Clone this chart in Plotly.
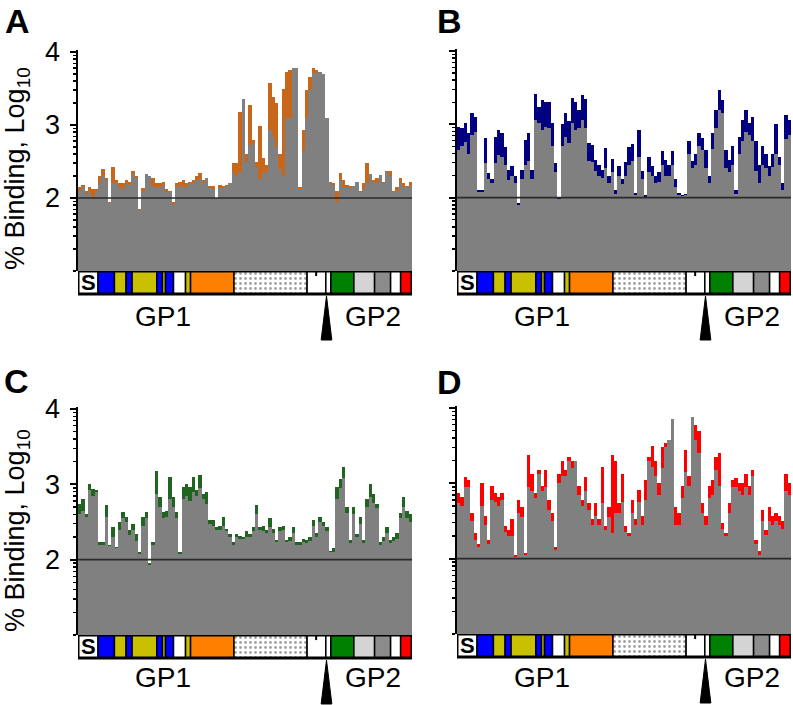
import plotly.graph_objects as go

W, H = 793, 705
FONT = "Liberation Sans"

# ---------------- data (log10 % binding, 100 peptide columns) ----------------
N = 100
cols = [i + 0.5 for i in range(N)]

a_top = [2.15, 2.18, 2.10, 2.15, 2.13, 2.12, 2.30, 2.40, 2.28, 1.95,
         2.42, 2.25, 2.20, 2.20, 2.25, 2.22, 2.37, 2.30, 1.85, 2.14,
         2.20, 2.25, 2.28, 2.20, 2.20, 2.22, 2.12, 2.10, 1.95, 2.20,
         2.22, 2.25, 2.20, 2.22, 2.25, 2.30, 2.34, 2.25, 2.22, 2.16,
         2.16, 2.00, 2.18, 2.17, 2.18, 2.20, 2.48, 2.48, 3.18, 3.20,
         2.60, 3.27, 2.80, 2.50, 2.99, 2.55, 2.45, 3.57, 3.38, 3.30,
         2.60, 3.50, 3.72, 3.76, 3.60, 2.50, 2.15, 2.93, 3.48, 3.66,
         3.78, 3.75, 3.35, 3.30, 2.80, 2.22, 2.20, 2.10, 2.34, 2.25,
         2.18, 2.16, 2.16, 2.18, 2.10, 2.20, 2.48, 2.20, 2.25, 2.28,
         2.30, 2.22, 2.37, 2.37, 2.10, 2.15, 2.28, 2.20, 2.17, 2.22]
a_gray = [2.10, 2.15, 2.05, 2.10, 2.02, 2.10, 2.20, 2.32, 2.25, 1.93,
          2.20, 2.20, 2.15, 2.12, 2.20, 2.18, 2.33, 2.28, 1.83, 2.10,
          2.33, 2.30, 2.16, 2.14, 2.15, 2.18, 2.08, 2.08, 1.90, 2.15,
          2.16, 2.15, 2.15, 2.20, 2.20, 2.25, 2.26, 2.20, 2.27, 2.14,
          2.12, 1.98, 2.14, 2.15, 2.17, 2.20, 2.34, 2.30, 2.36, 3.36,
          2.50, 2.72, 2.75, 2.42, 2.26, 2.34, 2.35, 2.93, 2.84, 2.70,
          2.40, 2.30, 3.10, 3.10, 3.78, 3.78, 2.12, 2.65, 3.10, 3.48,
          3.71, 3.71, 3.73, 3.70, 3.10, 2.20, 2.18, 1.95, 2.25, 2.15,
          2.15, 2.14, 2.16, 2.22, 2.08, 2.12, 2.20, 2.33, 2.22, 2.20,
          2.32, 2.20, 2.35, 2.30, 2.08, 2.10, 2.20, 2.15, 2.15, 2.17]

b_top = [2.96, 2.95, 3.02, 2.88, 3.15, 3.10, 2.10, 2.10, 2.81, 2.34,
         2.25, 2.83, 2.92, 2.88, 2.69, 2.38, 2.43, 2.30, 1.93, 2.38,
         2.79, 2.88, 2.38, 3.42, 3.24, 3.33, 3.31, 3.30, 3.02, 2.47,
         2.00, 3.00, 3.15, 3.04, 3.36, 3.30, 3.20, 3.40, 3.34, 2.75,
         2.72, 2.51, 2.45, 2.38, 2.68, 2.30, 2.53, 2.10, 2.43, 2.25,
         2.49, 2.69, 2.73, 2.06, 2.92, 2.37, 2.03, 2.55, 2.43, 2.30,
         2.35, 2.64, 2.52, 2.45, 2.64, 2.25, 2.07, 2.04, 2.05, 2.77,
         2.50, 2.60, 2.88, 2.82, 2.65, 2.30, 2.88, 3.20, 3.47, 3.33,
         2.65, 2.52, 2.70, 2.10, 2.83, 3.06, 3.20, 3.02, 3.10, 2.77,
         2.45, 2.70, 2.60, 2.43, 2.60, 3.00, 2.56, 2.20, 3.13, 3.06]
b_gray = [2.65, 2.70, 2.76, 2.60, 2.85, 2.90, 2.08, 2.08, 2.47, 2.26,
          2.20, 2.47, 2.58, 2.55, 2.44, 2.24, 2.30, 2.20, 1.90, 2.25,
          2.45, 2.50, 2.26, 3.06, 3.02, 2.92, 2.97, 2.95, 2.70, 2.35,
          1.98, 2.70, 2.83, 2.74, 3.02, 2.92, 2.95, 3.06, 2.95, 2.50,
          2.48, 2.36, 2.30, 2.27, 2.40, 2.20, 2.35, 2.05, 2.30, 2.18,
          2.30, 2.45, 2.50, 2.03, 2.56, 2.25, 2.00, 2.35, 2.30, 2.20,
          2.22, 2.45, 2.30, 2.30, 2.45, 2.15, 2.03, 2.02, 2.03, 2.60,
          2.40, 2.45, 2.70, 2.65, 2.40, 2.20, 2.66, 2.95, 3.20, 3.15,
          2.40, 2.35, 2.45, 2.05, 2.60, 2.77, 2.90, 2.86, 2.77, 2.36,
          2.20, 2.45, 2.40, 2.30, 2.42, 2.60, 2.45, 2.10, 2.80, 2.85]

c_top = [2.74, 2.80, 2.60, 3.00, 2.94, 2.92, 2.23, 2.23, 2.72, 2.20,
         2.43, 2.17, 2.50, 2.63, 2.57, 2.39, 2.48, 2.34, 2.10, 2.57,
         2.63, 1.95, 2.23, 3.18, 2.83, 2.63, 2.65, 3.10, 2.83, 2.63,
         2.10, 2.96, 3.00, 2.96, 3.10, 2.92, 3.12, 2.87, 2.90, 2.52,
         2.52, 2.43, 2.45, 2.57, 2.41, 2.34, 2.23, 2.34, 2.32, 2.30,
         2.38, 2.34, 2.43, 2.72, 2.43, 2.45, 2.39, 2.55, 2.41, 2.26,
         2.43, 2.45, 2.26, 2.30, 2.44, 2.23, 2.23, 2.28, 2.26, 2.30,
         2.52, 2.35, 2.57, 2.50, 2.43, 2.12, 2.15, 2.96, 3.07, 3.23,
         2.70, 2.26, 2.70, 2.34, 2.57, 2.26, 2.80, 3.00, 2.87, 2.74,
         2.23, 2.30, 2.43, 2.26, 2.30, 2.35, 2.62, 2.83, 2.65, 2.60]
c_gray = [2.61, 2.65, 2.57, 2.92, 2.85, 2.90, 2.20, 2.20, 2.57, 2.18,
          2.30, 2.15, 2.40, 2.55, 2.50, 2.33, 2.40, 2.25, 2.07, 2.45,
          2.55, 1.93, 2.20, 2.87, 2.70, 2.55, 2.57, 2.80, 2.70, 2.55,
          2.08, 2.80, 2.85, 2.78, 2.90, 2.85, 2.95, 2.80, 2.74, 2.48,
          2.45, 2.40, 2.40, 2.45, 2.38, 2.30, 2.20, 2.30, 2.28, 2.27,
          2.30, 2.30, 2.38, 2.60, 2.40, 2.38, 2.35, 2.43, 2.35, 2.23,
          2.38, 2.40, 2.23, 2.25, 2.35, 2.20, 2.20, 2.24, 2.22, 2.25,
          2.45, 2.30, 2.50, 2.45, 2.38, 2.10, 2.10, 2.80, 2.95, 3.08,
          2.62, 2.22, 2.60, 2.30, 2.48, 2.22, 2.70, 2.83, 2.75, 2.68,
          2.20, 2.25, 2.35, 2.22, 2.25, 2.28, 2.55, 2.70, 2.55, 2.50]

d_top = [2.87, 2.82, 3.09, 3.05, 2.60, 2.34, 2.20, 3.00, 2.56, 2.25,
         2.96, 2.87, 2.82, 2.87, 2.43, 2.38, 2.52, 2.05, 2.78, 2.69,
         2.07, 3.37, 3.13, 2.87, 3.18, 2.96, 3.18, 2.78, 2.60, 2.16,
         3.13, 3.30, 3.18, 3.35, 3.30, 3.18, 2.96, 2.78, 3.09, 2.74,
         2.52, 2.74, 2.52, 3.22, 2.43, 2.69, 3.37, 3.30, 2.74, 3.13,
         2.43, 2.34, 2.78, 2.52, 2.91, 2.56, 3.04, 3.35, 3.50, 3.30,
         3.00, 3.48, 3.53, 3.40, 3.55, 2.69, 2.60, 2.96, 3.44, 3.10,
         3.30, 3.77, 3.70, 2.74, 2.56, 2.96, 3.04, 3.35, 3.40, 2.47,
         2.34, 2.74, 3.04, 3.07, 3.00, 3.00, 3.13, 2.96, 3.18, 2.25,
         2.10, 2.65, 2.38, 2.69, 2.56, 2.60, 2.56, 2.50, 3.13, 3.00]
d_gray = [2.74, 2.70, 2.95, 2.95, 2.50, 2.25, 2.15, 2.70, 2.45, 2.20,
          2.78, 2.75, 2.70, 2.78, 2.35, 2.30, 2.30, 2.02, 2.60, 2.55,
          2.05, 2.95, 2.90, 2.80, 3.12, 2.90, 2.95, 2.65, 2.50, 2.12,
          3.00, 3.10, 3.10, 3.30, 3.20, 3.30, 2.85, 2.70, 2.90, 2.65,
          2.45, 2.57, 2.45, 2.74, 2.38, 2.55, 2.34, 2.60, 2.60, 2.75,
          2.35, 2.30, 2.60, 2.45, 2.75, 2.45, 2.78, 3.30, 3.22, 3.10,
          2.85, 3.20, 3.48, 3.57, 3.86, 2.45, 2.45, 2.80, 3.15, 2.96,
          3.88, 3.57, 3.40, 2.60, 2.45, 2.80, 2.85, 3.18, 2.96, 2.40,
          2.30, 2.60, 2.95, 2.95, 2.90, 2.85, 2.95, 2.85, 3.10, 2.20,
          2.05, 2.50, 2.32, 2.50, 2.45, 2.50, 2.45, 2.40, 2.90, 2.85]

# y ticks (log10 units)
major_ticks = [2, 3, 4]
major_text = ["2", "3", "4"]
minor_ticks = [1.0, 1.30103, 1.47712, 1.60206, 1.69897, 1.77815, 1.84510, 1.90309, 1.95424,
               2.30103, 2.47712, 2.60206, 2.69897, 2.77815, 2.84510, 2.90309, 2.95424,
               3.30103, 3.47712, 3.60206, 3.69897, 3.77815, 3.84510, 3.90309, 3.95424]

# protein domain map (percent of sequence length)
seg_start = [0, 6, 10.9, 14.4, 16.2, 23.6, 25.3, 26.2, 28.6, 32.2, 33.7, 46.7,
             68.6, 74.2, 75.7, 82.6, 88.8, 93.6, 96.6]
seg_end = [6, 10.9, 14.4, 16.2, 23.6, 25.3, 26.2, 28.6, 32.2, 33.7, 46.7, 68.6,
           74.2, 75.7, 82.6, 88.8, 93.6, 96.6, 100]
seg_color = ["#ffffff", "#0000ff", "#c8c000", "#0000ff", "#c8c000", "#0000ff",
             "#c8c000", "#0000ff", "#ffffff", "#c8c000", "#ff8000", "#ffffff",
             "#ffffff", "#ffffff", "#008000", "#d4d4d4", "#8c8c8c", "#ffffff", "#ff0000"]
seg_pattern = ["", "", "", "", "", "", "", "", "", "", "", ".",
               "", "", "", "", "", "", ""]
cleavage_pos = 74.4
gp1_pos = 25.5
gp2_pos = 88.4

panels = [
    dict(letter="A", top=a_top, gray=a_gray, color="#c8661a", x0=78, x1=412,
         ybot=271, y4=52, sbot=342, labels=True, gp_y=316, title_y=169, let_xy=(17, 21)),
    dict(letter="B", top=b_top, gray=b_gray, color="#000080", x0=457, x1=791,
         ybot=271, y4=51, sbot=342, labels=False, gp_y=316, title_y=None, let_xy=(449, 21)),
    dict(letter="C", top=c_top, gray=c_gray, color="#1f641f", x0=78, x1=412,
         ybot=635, y4=409, sbot=705, labels=True, gp_y=677, title_y=531, let_xy=(16, 381)),
    dict(letter="D", top=d_top, gray=d_gray, color="#ff0000", x0=457, x1=791,
         ybot=634, y4=408, sbot=705, labels=False, gp_y=677, title_y=None, let_xy=(449, 382)),
]

fig = go.Figure()
layout = dict(width=W, height=H, margin=dict(l=0, r=0, t=0, b=0, autoexpand=False),
              template="none",
              paper_bgcolor="white", plot_bgcolor="rgba(0,0,0,0)",
              showlegend=False, barmode="overlay", bargap=0,
              font=dict(family=FONT, color="black"))
annotations = []
YTOP = 4.03
STRIP_UNIT = 23.0

for k, p in enumerate(panels):
    mi = 2 * k + 1
    si = 2 * k + 2
    mx, my = f"x{mi}", f"y{mi}"
    sx, sy = f"x{si}", f"y{si}"
    unit = (p["ybot"] - p["y4"]) / 3.0
    ytop_px = p["ybot"] - (YTOP - 1) * unit
    xd = [p["x0"] / W, p["x1"] / W]

    # colored bars, then gray bars on top
    fig.add_trace(go.Bar(x=cols, y=p["top"], width=1, marker=dict(color=p["color"], line=dict(width=0)),
                         xaxis=mx, yaxis=my, hoverinfo="skip"))
    fig.add_trace(go.Bar(x=cols, y=p["gray"], width=1, marker=dict(color="#808080", line=dict(width=0)),
                         xaxis=mx, yaxis=my, hoverinfo="skip"))
    fig.add_trace(go.Scatter(x=[0, N], y=[2, 2], mode="lines", line=dict(color="#2a2a2a", width=1.6),
                             xaxis=mx, yaxis=my, hoverinfo="skip"))

    layout[f"xaxis{mi}"] = dict(domain=xd, range=[0, N], visible=False, anchor=my,
                                fixedrange=True, automargin=False)
    layout[f"yaxis{mi}"] = dict(
        domain=[1 - p["ybot"] / H, 1 - ytop_px / H], range=[1, YTOP], anchor=mx,
        automargin=False,
        showline=True, linecolor="black", linewidth=2.5, showgrid=False, zeroline=False,
        ticks="outside", ticklen=6, tickwidth=2, tickcolor="black",
        tickvals=major_ticks, ticktext=major_text, showticklabels=p["labels"],
        tickfont=dict(size=27, family=FONT, color="black"), ticklabelstandoff=4,
        minor=dict(tickvals=minor_ticks, ticks="outside", ticklen=3, tickwidth=1.5,
                   tickcolor="black", showgrid=False),
        fixedrange=True)

    # domain strip
    widths = [e - s for s, e in zip(seg_start, seg_end)]
    fig.add_trace(go.Bar(orientation="h", y=[0.5] * len(widths), x=widths, base=seg_start, width=1,
                         marker=dict(color=seg_color, line=dict(color="black", width=1.5),
                                     pattern=dict(shape=seg_pattern, fillmode="overlay",
                                                  fgcolor="#9a9a9a", size=5, solidity=0.25)),
                         xaxis=sx, yaxis=sy, hoverinfo="skip"))
    fig.add_trace(go.Scatter(x=[0, 100, 100, 0, 0], y=[0, 0, 1, 1, 0], mode="lines",
                             line=dict(color="black", width=3), xaxis=sx, yaxis=sy, hoverinfo="skip"))
    fig.add_trace(go.Scatter(x=[71.3, 71.3], y=[1, 0.78], mode="lines",
                             line=dict(color="black", width=2), xaxis=sx, yaxis=sy, hoverinfo="skip"))
    fig.add_trace(go.Scatter(x=[cleavage_pos - 1.6, cleavage_pos + 1.6, cleavage_pos, cleavage_pos - 1.6],
                             y=[-2.0, -2.0, -0.09, -2.0], mode="lines", fill="toself",
                             fillcolor="black", line=dict(color="black", width=1),
                             xaxis=sx, yaxis=sy, hoverinfo="skip"))
    layout[f"xaxis{si}"] = dict(domain=xd, range=[0, 100], visible=False, anchor=sy,
                                fixedrange=True, automargin=False)
    layout[f"yaxis{si}"] = dict(domain=[1 - p["sbot"] / H, 1 - p["ybot"] / H],
                                range=[1 - (p["sbot"] - p["ybot"]) / STRIP_UNIT, 1],
                                visible=False, anchor=sx, fixedrange=True, automargin=False)

    annotations.append(dict(x=3, y=0.5, xref=sx, yref=sy, text="<b>S</b>", showarrow=False,
                            font=dict(size=22, family=FONT, color="black"),
                            xanchor="center", yanchor="middle"))
    annotations.append(dict(x=gp1_pos, y=1 - p["gp_y"] / H, xref=sx, yref="paper", text="GP1",
                            showarrow=False, font=dict(size=28, family=FONT, color="black"),
                            xanchor="center", yanchor="middle"))
    annotations.append(dict(x=gp2_pos, y=1 - p["gp_y"] / H, xref=sx, yref="paper", text="GP2",
                            showarrow=False, font=dict(size=28, family=FONT, color="black"),
                            xanchor="center", yanchor="middle"))
    annotations.append(dict(x=p["let_xy"][0] / W, y=1 - p["let_xy"][1] / H, xref="paper", yref="paper",
                            text=f"<b>{p['letter']}</b>", showarrow=False,
                            font=dict(size=34, family=FONT, color="black"),
                            xanchor="center", yanchor="middle"))
    if p["title_y"] is not None:
        annotations.append(dict(x=17 / W, y=1 - p["title_y"] / H, xref="paper", yref="paper",
                                text="% Binding, Log<sub>10</sub>", textangle=-90, showarrow=False,
                                font=dict(size=27, family=FONT, color="black"),
                                xanchor="center", yanchor="middle"))

layout["annotations"] = annotations
fig.update_layout(**layout)
fig.write_html("out.html",
               config={"displayModeBar": False, "staticPlot": True},
               post_script="document.body.style.margin='0';document.body.style.padding='0';"
                           "document.body.style.overflow='hidden';")
